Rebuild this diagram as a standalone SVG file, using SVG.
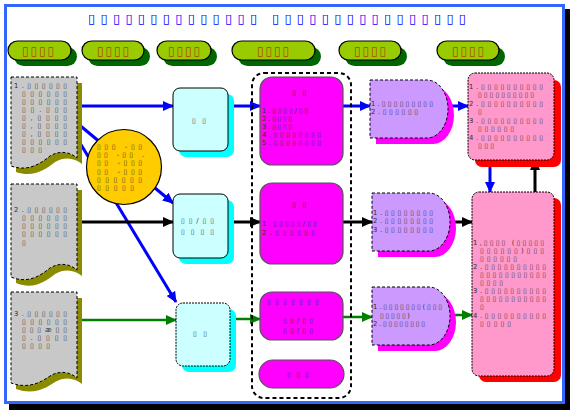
<svg xmlns="http://www.w3.org/2000/svg" width="570" height="410" viewBox="0 0 570 410">
<defs>
<style>
.t{font-family:"DejaVu Sans","Liberation Sans",sans-serif;font-size:6.8px;fill:#333}
.ti{font-family:"DejaVu Sans","Liberation Sans",sans-serif;font-size:13px;fill:#0000FF}
.pl{font-family:"DejaVu Sans","Liberation Sans",sans-serif;font-size:12px;fill:#B34700}
.pill{fill:#99CC00;stroke:#000;stroke-width:1.2}
.pills{fill:#006600}
.doc{fill:#C8C8C8;stroke:#000;stroke-width:1;stroke-dasharray:3,2}
.docs{fill:#8B8B00}
.cy{fill:#CCFFFF;stroke:#000;stroke-width:1}
.cys{fill:#00FFFF}
.mg{fill:#FF00FF;stroke:#555;stroke-width:1.2}
.pu{fill:#CC99FF;stroke:#000;stroke-width:1;stroke-dasharray:3,2}
.pus{fill:#FF00FF}
.pk{fill:#FF99CC;stroke:#000;stroke-width:1;stroke-dasharray:2,1}
.pks{fill:#FF0000}
.lb{stroke:#0000FF;stroke-width:3;fill:none}
.lk{stroke:#000;stroke-width:3;fill:none}
.lg{stroke:#008000;stroke-width:2.5;fill:none}
</style>
<marker id="ab" markerUnits="userSpaceOnUse" markerWidth="11" markerHeight="10" refX="10" refY="5" orient="auto"><path d="M0,0 L11,5 L0,10 z" fill="#0000FF"/></marker>
<marker id="ak" markerUnits="userSpaceOnUse" markerWidth="11" markerHeight="10" refX="10" refY="5" orient="auto"><path d="M0,0 L11,5 L0,10 z" fill="#000"/></marker>
<marker id="ag" markerUnits="userSpaceOnUse" markerWidth="11" markerHeight="10" refX="10" refY="5" orient="auto"><path d="M0,0 L11,5 L0,10 z" fill="#008000"/></marker>
</defs>

<g id="frame">
<rect x="9" y="9" width="561" height="401" fill="#000"/>
<rect x="5.5" y="5.5" width="558" height="397" fill="#fff" stroke="#3366FF" stroke-width="3"/>
</g>

<g id="title"><text class="ti" x="88" y="23" textLength="378" lengthAdjust="spacing">▯▯▯▯▯▯▯▯▯▯▯▯▯▯ ▯▯▯▯▯▯▯▯▯▯▯▯▯▯▯▯</text></g>

<g id="header1"><rect class="pills" x="14" y="47" width="63" height="19" rx="9.5"/><rect class="pill" x="8" y="41" width="63" height="19" rx="9.5"/><text class="pl" x="22" y="55" textLength="32" lengthAdjust="spacing">▯▯▯▯</text></g>
<g id="header2"><rect class="pills" x="88" y="47" width="62" height="19" rx="9.5"/><rect class="pill" x="82" y="41" width="62" height="19" rx="9.5"/><text class="pl" x="97" y="55" textLength="32" lengthAdjust="spacing">▯▯▯▯</text></g>
<g id="header3"><rect class="pills" x="163" y="47" width="54" height="19" rx="9.5"/><rect class="pill" x="157" y="41" width="54" height="19" rx="9.5"/><text class="pl" x="168" y="55" textLength="32" lengthAdjust="spacing">▯▯▯▯</text></g>
<g id="header4"><rect class="pills" x="238" y="47" width="83" height="19" rx="9.5"/><rect class="pill" x="232" y="41" width="83" height="19" rx="9.5"/><text class="pl" x="257" y="55" textLength="32" lengthAdjust="spacing">▯▯▯▯</text></g>
<g id="header5"><rect class="pills" x="345" y="47" width="62" height="19" rx="9.5"/><rect class="pill" x="339" y="41" width="62" height="19" rx="9.5"/><text class="pl" x="354" y="55" textLength="32" lengthAdjust="spacing">▯▯▯▯</text></g>
<g id="header6"><rect class="pills" x="443" y="47" width="62" height="19" rx="9.5"/><rect class="pill" x="437" y="41" width="62" height="19" rx="9.5"/><text class="pl" x="452" y="55" textLength="32" lengthAdjust="spacing">▯▯▯▯</text></g>

<g id="connectors">
<line class="lb" x1="77" y1="106" x2="173" y2="106" marker-end="url(#ab)"/>
<line class="lb" x1="77" y1="123" x2="173" y2="203" marker-end="url(#ab)"/>
<line class="lb" x1="77" y1="138" x2="176" y2="302" marker-end="url(#ab)"/>
<line class="lk" x1="77" y1="222" x2="173" y2="222" marker-end="url(#ak)"/>
<line class="lg" x1="77" y1="320" x2="176" y2="320" marker-end="url(#ag)"/>
<line class="lb" x1="228" y1="106" x2="260" y2="106" marker-end="url(#ab)"/>
<line class="lk" x1="228" y1="222" x2="260" y2="222" marker-end="url(#ak)"/>
<line class="lg" x1="230" y1="319" x2="260" y2="319" marker-end="url(#ag)"/>
<line class="lb" x1="343" y1="106" x2="370" y2="106" marker-end="url(#ab)"/>
<line class="lk" x1="343" y1="222" x2="372" y2="222" marker-end="url(#ak)"/>
<line class="lg" x1="343" y1="317" x2="372" y2="317" marker-end="url(#ag)"/>
<line class="lb" x1="448" y1="106" x2="468" y2="106" marker-end="url(#ab)"/>
<line class="lk" x1="450" y1="222" x2="472" y2="222" marker-end="url(#ak)"/>
<line class="lg" x1="450" y1="315" x2="472" y2="315" marker-end="url(#ag)"/>
<line class="lb" x1="490" y1="160" x2="490" y2="192" marker-end="url(#ab)"/>
<line class="lk" x1="535" y1="192" x2="535" y2="160" marker-end="url(#ak)"/>
</g>

<g id="doc1">
<path class="docs" d="M16,83 H82 V164 C75,158 65,156 55,162 C45,170 33,178 16,172 Z"/>
<path class="doc" d="M11,77 H77 V158 C70,152 60,150 50,156 C40,164 28,172 11,166 Z"/>
<text class="t" x="14" y="88" textLength="53" lengthAdjust="spacing">1.▯▯▯▯▯▯</text>
<text class="t" x="22" y="96" textLength="45" lengthAdjust="spacing">▯▯▯▯▯▯</text>
<text class="t" x="22" y="104" textLength="45" lengthAdjust="spacing">▯▯▯▯▯▯</text>
<text class="t" x="22" y="112" textLength="45" lengthAdjust="spacing">▯▯.▯▯▯</text>
<text class="t" x="22" y="120" textLength="45" lengthAdjust="spacing">▯,▯▯▯▯</text>
<text class="t" x="22" y="128" textLength="45" lengthAdjust="spacing">▯,▯▯▯▯</text>
<text class="t" x="22" y="136" textLength="45" lengthAdjust="spacing">▯,▯▯▯▯</text>
<text class="t" x="22" y="144" textLength="45" lengthAdjust="spacing">▯▯▯▯▯▯</text>
<text class="t" x="22" y="152" textLength="20" lengthAdjust="spacing">▯▯▯</text>
</g>

<g id="doc2">
<path class="docs" d="M16,190 H82 V276 C75,270 65,268 55,274 C45,282 33,290 16,283 Z"/>
<path class="doc" d="M11,184 H77 V270 C70,264 60,262 50,268 C40,276 28,284 11,277 Z"/>
<text class="t" x="14" y="212" textLength="53" lengthAdjust="spacing">2.▯▯▯▯▯▯</text>
<text class="t" x="22" y="220" textLength="45" lengthAdjust="spacing">▯▯▯▯▯▯</text>
<text class="t" x="22" y="228" textLength="45" lengthAdjust="spacing">▯▯▯▯▯▯</text>
<text class="t" x="22" y="236" textLength="45" lengthAdjust="spacing">▯▯▯▯▯▯</text>
<text class="t" x="22" y="245">▯</text>
</g>

<g id="doc3">
<path class="docs" d="M16,298 H82 V384 C75,378 65,376 55,382 C45,389 33,395 16,389 Z"/>
<path class="doc" d="M11,292 H77 V378 C70,372 60,370 50,376 C40,383 28,389 11,383 Z"/>
<text class="t" x="14" y="316" textLength="53" lengthAdjust="spacing">3.▯▯▯▯▯▯</text>
<text class="t" x="22" y="324" textLength="45" lengthAdjust="spacing">▯▯▯▯▯▯</text>
<text class="t" x="22" y="332" textLength="45" lengthAdjust="spacing">▯▯▯æ▯▯</text>
<text class="t" x="22" y="340" textLength="45" lengthAdjust="spacing">▯.▯▯▯▯</text>
<text class="t" x="22" y="348" textLength="28" lengthAdjust="spacing">▯▯▯▯</text>
</g>

<g id="circle">
<circle cx="124" cy="167" r="37.5" fill="#FFCC00" stroke="#000" stroke-width="1.2"/>
<text class="t" x="97" y="149" textLength="45" lengthAdjust="spacing">▯▯▯ -▯▯</text>
<text class="t" x="97" y="157" textLength="47" lengthAdjust="spacing">▯▯ -▯▯ .</text>
<text class="t" x="97" y="165" textLength="45" lengthAdjust="spacing">▯▯ -▯▯▯</text>
<text class="t" x="97" y="174" textLength="45" lengthAdjust="spacing">▯▯ -▯▯▯</text>
<text class="t" x="97" y="182" textLength="45" lengthAdjust="spacing">▯▯▯▯▯▯</text>
<text class="t" x="97" y="190" textLength="37" lengthAdjust="spacing">▯▯▯▯▯</text>
</g>

<g id="step1">
<rect class="cys" x="179" y="94" width="55" height="63" rx="7"/>
<rect class="cy" x="173" y="88" width="55" height="63" rx="7"/>
<text class="t" x="192" y="123" textLength="14" lengthAdjust="spacing">▯▯</text>
</g>
<g id="step2">
<rect class="cys" x="179" y="200" width="55" height="64" rx="7"/>
<rect class="cy" x="173" y="194" width="55" height="64" rx="7"/>
<text class="t" x="181" y="223" textLength="33" lengthAdjust="spacing">▯▯/▯▯</text>
<text class="t" x="181" y="234" textLength="33" lengthAdjust="spacing">▯▯▯▯</text>
</g>
<g id="step3">
<rect class="cys" x="182" y="309" width="54" height="63" rx="7"/>
<rect class="cy" x="176" y="303" width="54" height="63" rx="7" stroke-dasharray="2,1"/>
<text class="t" x="193" y="336" textLength="14" lengthAdjust="spacing">▯▯</text>
</g>

<g id="group">
<rect x="252" y="73" width="99" height="325" rx="12" fill="none" stroke="#000" stroke-width="2" stroke-dasharray="4,3"/>
</g>

<g id="proc1">
<rect class="mg" x="260" y="77" width="83" height="88" rx="12"/>
<text class="t" x="292" y="95" textLength="14" lengthAdjust="spacing">▯▯</text>
<text class="t" x="262" y="113" textLength="46" lengthAdjust="spacing">1.▯▯▯▯/▯▯</text>
<text class="t" x="262" y="121" textLength="30" lengthAdjust="spacing">2.▯▯▯▯</text>
<text class="t" x="262" y="129" textLength="30" lengthAdjust="spacing">3.▯▯▯▯</text>
<text class="t" x="262" y="137" textLength="59" lengthAdjust="spacing">4.▯▯▯▯▯▯▯▯</text>
<text class="t" x="262" y="145" textLength="59" lengthAdjust="spacing">5.▯▯▯▯▯▯▯▯</text>
</g>
<g id="proc2">
<rect class="mg" x="260" y="183" width="83" height="81" rx="12"/>
<text class="t" x="292" y="207" textLength="14" lengthAdjust="spacing">▯▯</text>
<text class="t" x="262" y="226" textLength="55" lengthAdjust="spacing">1.▯▯▯▯▯/▯▯</text>
<text class="t" x="262" y="235" textLength="53" lengthAdjust="spacing">2.▯▯▯▯▯▯</text>
</g>
<g id="proc3">
<rect class="mg" x="260" y="292" width="83" height="48" rx="12"/>
<text class="t" x="267" y="304" textLength="52" lengthAdjust="spacing">▯▯▯▯▯▯▯</text>
<text class="t" x="283" y="323" textLength="30" lengthAdjust="spacing">▯▯/▯▯</text>
<text class="t" x="283" y="333" textLength="30" lengthAdjust="spacing">▯▯/▯▯</text>
</g>
<g id="proc4">
<rect class="mg" x="259" y="360" width="85" height="28" rx="14"/>
<text class="t" x="287" y="377" textLength="22" lengthAdjust="spacing">▯▯▯</text>
</g>

<g id="out1">
<path class="pus" d="M376,86 H433 A21 29 0 0 1 433,144 H376 Z"/>
<path class="pu" d="M370,80 H427 A21 29 0 0 1 427,138 H370 Z"/>
<text class="t" x="371" y="106" textLength="62" lengthAdjust="spacing">1.▯▯▯▯▯▯▯▯▯</text>
<text class="t" x="371" y="114" textLength="47" lengthAdjust="spacing">2.▯▯▯▯▯▯</text>
</g>
<g id="out2">
<path class="pus" d="M378,199 H435 A21 29 0 0 1 435,257 H378 Z"/>
<path class="pu" d="M372,193 H429 A21 29 0 0 1 429,251 H372 Z"/>
<text class="t" x="373" y="215" textLength="60" lengthAdjust="spacing">1.▯▯▯▯▯▯▯▯</text>
<text class="t" x="373" y="223" textLength="60" lengthAdjust="spacing">2.▯▯▯▯▯▯▯▯</text>
<text class="t" x="373" y="232" textLength="60" lengthAdjust="spacing">3.▯▯▯▯▯▯▯▯</text>
</g>
<g id="out3">
<path class="pus" d="M378,293 H435 A21 29 0 0 1 435,351 H378 Z"/>
<path class="pu" d="M372,287 H429 A21 29 0 0 1 429,345 H372 Z"/>
<text class="t" x="373" y="309" textLength="69" lengthAdjust="spacing">1.▯▯▯▯▯▯▯(▯▯▯</text>
<text class="t" x="380" y="318" textLength="30" lengthAdjust="spacing">▯▯▯▯▯)</text>
<text class="t" x="373" y="326" textLength="52" lengthAdjust="spacing">2.▯▯▯▯▯▯▯▯</text>
</g>

<g id="result1">
<rect class="pks" x="475" y="80" width="86" height="87" rx="7"/>
<rect class="pk" x="468" y="73" width="86" height="87" rx="7"/>
<text class="t" x="469" y="89" textLength="74" lengthAdjust="spacing">1.▯▯▯▯▯▯▯▯▯▯</text>
<text class="t" x="478" y="97" textLength="56" lengthAdjust="spacing">▯▯▯▯▯▯▯▯▯▯</text>
<text class="t" x="469" y="106" textLength="74" lengthAdjust="spacing">2.▯▯▯▯▯▯▯▯▯▯</text>
<text class="t" x="478" y="114">▯</text>
<text class="t" x="469" y="123" textLength="74" lengthAdjust="spacing">3.▯▯▯▯▯▯▯▯▯▯</text>
<text class="t" x="478" y="131" textLength="36" lengthAdjust="spacing">▯▯▯▯▯▯</text>
<text class="t" x="469" y="140" textLength="74" lengthAdjust="spacing">4.▯▯▯▯▯▯▯▯▯▯</text>
<text class="t" x="478" y="148" textLength="16" lengthAdjust="spacing">▯▯▯</text>
</g>
<g id="result2">
<rect class="pks" x="479" y="198" width="82" height="184" rx="7"/>
<rect class="pk" x="472" y="192" width="82" height="184" rx="7"/>
<text class="t" x="473" y="245" textLength="71" lengthAdjust="spacing">1,▯▯▯▯ (▯▯▯▯▯</text>
<text class="t" x="480" y="253" textLength="64" lengthAdjust="spacing">▯▯▯▯▯▯)▯▯▯</text>
<text class="t" x="480" y="261" textLength="37" lengthAdjust="spacing">▯▯▯▯▯▯</text>
<text class="t" x="473" y="269" textLength="73" lengthAdjust="spacing">2.▯▯▯▯▯▯▯▯▯▯</text>
<text class="t" x="480" y="277" textLength="66" lengthAdjust="spacing">▯▯▯▯▯▯▯▯▯▯▯</text>
<text class="t" x="480" y="285" textLength="23" lengthAdjust="spacing">▯▯▯▯</text>
<text class="t" x="473" y="293" textLength="73" lengthAdjust="spacing">3.▯▯▯▯▯▯▯▯▯▯</text>
<text class="t" x="480" y="301" textLength="66" lengthAdjust="spacing">▯▯▯▯▯▯▯▯▯▯▯</text>
<text class="t" x="480" y="309">▯</text>
<text class="t" x="473" y="318" textLength="73" lengthAdjust="spacing">4.▯▯▯▯▯▯▯▯▯▯</text>
<text class="t" x="480" y="326" textLength="31" lengthAdjust="spacing">▯▯▯▯▯</text>
</g>
</svg>
